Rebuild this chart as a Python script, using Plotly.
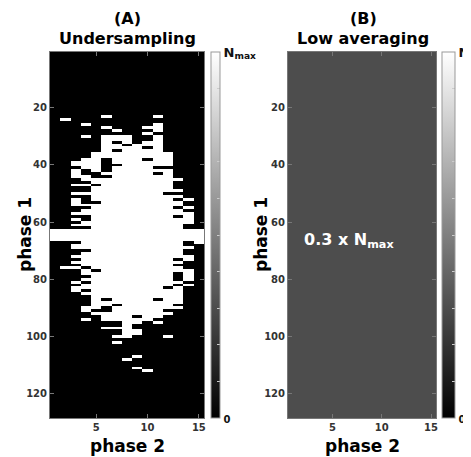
import plotly.graph_objects as go

# ---------------- data ----------------
n_phase1 = 128
n_phase2 = 15
phase2_ticks = [5, 10, 15]
phase1_ticks = [20, 40, 60, 80, 100, 120]
low_avg_level = 0.3

# sampled (white) phase-2 columns for each phase-1 row of the undersampling mask
ALL = list(range(1, 16))
mask_rows = {
    23: [6, 11], 24: [2], 26: [4, 11], 27: [6, 10, 11], 28: [7, 11], 29: [10],
    30: [4, 6, 7, 8, 11], 31: [6, 7, 8, 11], 32: [6, 8, 10, 11],
    33: [6, 7, 9, 10, 11], 34: [6, 7, 8, 9, 11], 35: [6, 8, 9, 10, 11],
    36: [5, 6, 7, 8, 9, 10, 11, 12], 37: [5, 6, 7, 8, 9, 10, 11, 12],
    38: [4, 5, 7, 8, 9, 11, 12], 39: [3, 4, 5, 7, 8, 9, 10, 11, 12],
    40: [3, 4, 5, 8, 9, 10, 11, 12], 41: [4, 5, 7, 8, 9, 10],
    42: [3, 5, 7, 8, 9, 10, 11, 12], 43: [3, 6, 7, 8, 9, 10, 12],
    44: [3, 4, 7, 8, 9, 10, 11, 12], 45: [4, 5, 6, 7, 8, 9, 10, 11, 12, 13],
    46: [5, 6, 7, 8, 9, 10, 11, 12], 47: [3, 4, 6, 7, 8, 9, 10, 11, 12],
    48: [5, 6, 7, 8, 9, 10, 11, 12], 49: [5, 6, 7, 8, 9, 10, 11, 12, 13],
    50: [3, 4, 5, 6, 7, 8, 9, 10, 11], 51: [5, 6, 7, 8, 9, 10, 11, 12, 13],
    52: [3, 5, 6, 7, 8, 9, 10, 11, 12, 14], 53: [3, 6, 7, 8, 9, 10, 11, 12, 13],
    54: [3, 4, 5, 6, 7, 8, 9, 10, 11, 12, 13], 55: [5, 6, 7, 8, 9, 10, 11, 12, 14],
    56: [4, 5, 6, 7, 8, 9, 10, 11, 12, 13], 57: [3, 4, 5, 6, 7, 8, 9, 10, 11, 12, 13, 14],
    58: [5, 6, 7, 8, 9, 10, 11, 12, 14], 59: [3, 5, 6, 7, 8, 9, 10, 11, 12, 13, 14],
    60: [4, 5, 6, 7, 8, 9, 10, 11, 12, 13, 14], 61: [3, 4, 5, 6, 7, 8, 9, 10, 11, 12, 13],
    62: [5, 6, 7, 8, 9, 10, 11, 12, 13],
    63: ALL, 64: ALL, 65: ALL, 66: ALL,
    67: [4, 5, 6, 7, 8, 9, 10, 11, 12, 13, 15], 68: [3, 4, 5, 6, 7, 8, 9, 10, 11, 12, 13],
    69: [3, 4, 5, 6, 7, 8, 9, 10, 11, 12, 13, 14], 70: [5, 6, 7, 8, 9, 10, 11, 12, 13],
    71: [4, 5, 6, 7, 8, 9, 10, 11, 12, 13], 72: [3, 4, 5, 6, 7, 8, 9, 10, 11, 12, 13, 14],
    73: [4, 5, 6, 7, 8, 9, 10, 11, 12, 14], 74: [3, 4, 5, 6, 7, 8, 9, 10, 11, 12, 13],
    75: [4, 5, 6, 7, 8, 9, 10, 11, 12], 76: [2, 3, 5, 6, 7, 8, 9, 10, 11, 12, 13],
    77: [4, 6, 7, 8, 9, 10, 11, 12, 13, 14], 78: [4, 5, 6, 7, 8, 9, 10, 11, 12, 14],
    79: [5, 6, 7, 8, 9, 10, 11, 12, 14], 80: [4, 5, 6, 7, 8, 9, 10, 11, 12, 14],
    81: [3, 5, 6, 7, 8, 9, 10, 11, 12, 13], 82: [4, 5, 6, 7, 8, 9, 10, 11, 12, 14],
    83: [3, 4, 5, 6, 7, 8, 9, 10, 11, 13], 84: [3, 5, 6, 7, 8, 9, 10, 11, 12, 13],
    85: [4, 5, 6, 7, 8, 9, 10, 11, 12, 13], 86: [5, 6, 7, 8, 9, 10, 11, 12, 13],
    87: [5, 7, 8, 9, 10, 12, 13], 88: [5, 6, 7, 8, 9, 10, 11, 12, 13],
    89: [5, 6, 8, 9, 10, 11, 12], 90: [4, 5, 7, 8, 9, 10, 11, 12, 13],
    91: [4, 7, 8, 9, 10, 11], 92: [5, 6, 7, 8, 9, 10, 11, 12],
    93: [6, 7, 8, 10, 11], 94: [4, 6, 7, 8, 9, 10], 95: [8, 9, 11], 96: [8],
    97: [6, 7, 8], 98: [8, 9], 99: [8, 9], 100: [7, 8, 12], 102: [7],
    107: [9], 108: [8], 111: [9], 112: [10],
}

phase1 = list(range(1, n_phase1 + 1))
phase2 = list(range(1, n_phase2 + 1))
mask = [[1 if c in mask_rows.get(r, []) else 0 for c in phase2] for r in phase1]
low_avg = [[low_avg_level for c in phase2] for r in phase1]

# ---------------- figure ----------------
# the page body has an 8px margin, so the figure is sized and laid out to compensate
OFF = 8
W, H = 471 - OFF, 457 - OFF
FONT = "DejaVu Sans"
px = lambda v: (v - OFF) / W
py = lambda v: 1 - (v - OFF) / H

gray = [[0, "black"], [1, "white"]]
cb_ticks = [i / 10 for i in range(11)]
cb_text = ["<span style='font-size:10px'>0</span>"] + [""] * 9 + ["N<sub>max</sub>"]

def cbar(x, thick):
    return dict(
        x=px(x), xanchor="left", xref="paper",
        y=py(235), yanchor="middle", len=366 / H, lenmode="fraction",
        thickness=thick, outlinewidth=1, outlinecolor="#999",
        tickmode="array", tickvals=cb_ticks, ticktext=cb_text,
        ticks="inside", ticklen=3, tickcolor="#ccc",
        tickfont=dict(family=FONT, size=13, color="#111", weight="bold"),
        ypad=0, xpad=0,
    )

fig = go.Figure()
fig.add_trace(go.Heatmap(z=mask, x=phase2, y=phase1, colorscale=gray, zmin=0, zmax=1,
                         colorbar=cbar(211, 9), xaxis="x", yaxis="y", hoverinfo="skip"))
fig.add_trace(go.Heatmap(z=low_avg, x=phase2, y=phase1, colorscale=gray, zmin=0, zmax=1,
                         colorbar=cbar(442, 13), xaxis="x2", yaxis="y2", hoverinfo="skip"))

tickfont = dict(family=FONT, size=10, color="#333", weight="bold")
ax_common = dict(showgrid=False, zeroline=False, showline=True, linecolor="#777",
                 linewidth=1, mirror="ticks", ticks="inside", ticklen=4,
                 tickcolor="#777", tickfont=tickfont)

fig.update_layout(
    width=W, height=H, paper_bgcolor="white", plot_bgcolor="white",
    margin=dict(l=0, r=0, t=0, b=0, autoexpand=False),
    xaxis=dict(domain=[px(50), px(204)], range=[0.5, 15.5], tickvals=phase2_ticks,
               anchor="y", **ax_common),
    yaxis=dict(domain=[py(418), py(52)], range=[128.5, 0.5], tickvals=phase1_ticks,
               anchor="x", **ax_common),
    xaxis2=dict(domain=[px(288), px(436)], range=[0.5, 15.5], tickvals=phase2_ticks,
                anchor="y2", **ax_common),
    yaxis2=dict(domain=[py(418), py(52)], range=[128.5, 0.5], tickvals=phase1_ticks,
                anchor="x2", **ax_common),
)

title_font = dict(family=FONT, size=16, color="black", weight="bold")
label_font = dict(family=FONT, size=17, color="black", weight="bold")
ann = [
    dict(text="(A)", x=px(127), y=py(18)),
    dict(text="Undersampling", x=px(127), y=py(38)),
    dict(text="(B)", x=px(363), y=py(18)),
    dict(text="Low averaging", x=px(363), y=py(38)),
]
annotations = [dict(a, xref="paper", yref="paper", showarrow=False, font=title_font,
                    xanchor="center", yanchor="middle") for a in ann]
for cx in (127, 362):
    annotations.append(dict(text="phase 2", x=px(cx), y=py(446), xref="paper", yref="paper",
                            showarrow=False, font=label_font, xanchor="center", yanchor="middle"))
for cx in (25, 261):
    annotations.append(dict(text="phase 1", x=px(cx), y=py(235), xref="paper", yref="paper",
                            showarrow=False, font=label_font, textangle=-90,
                            xanchor="center", yanchor="middle"))
annotations.append(dict(text="0.3 x N<sub>max</sub>", x=px(349), y=py(240), xref="paper",
                        yref="paper", showarrow=False,
                        font=dict(family=FONT, size=16, color="white", weight="bold"),
                        xanchor="center", yanchor="middle"))
fig.update_layout(annotations=annotations)

fig.write_html("out.html")
